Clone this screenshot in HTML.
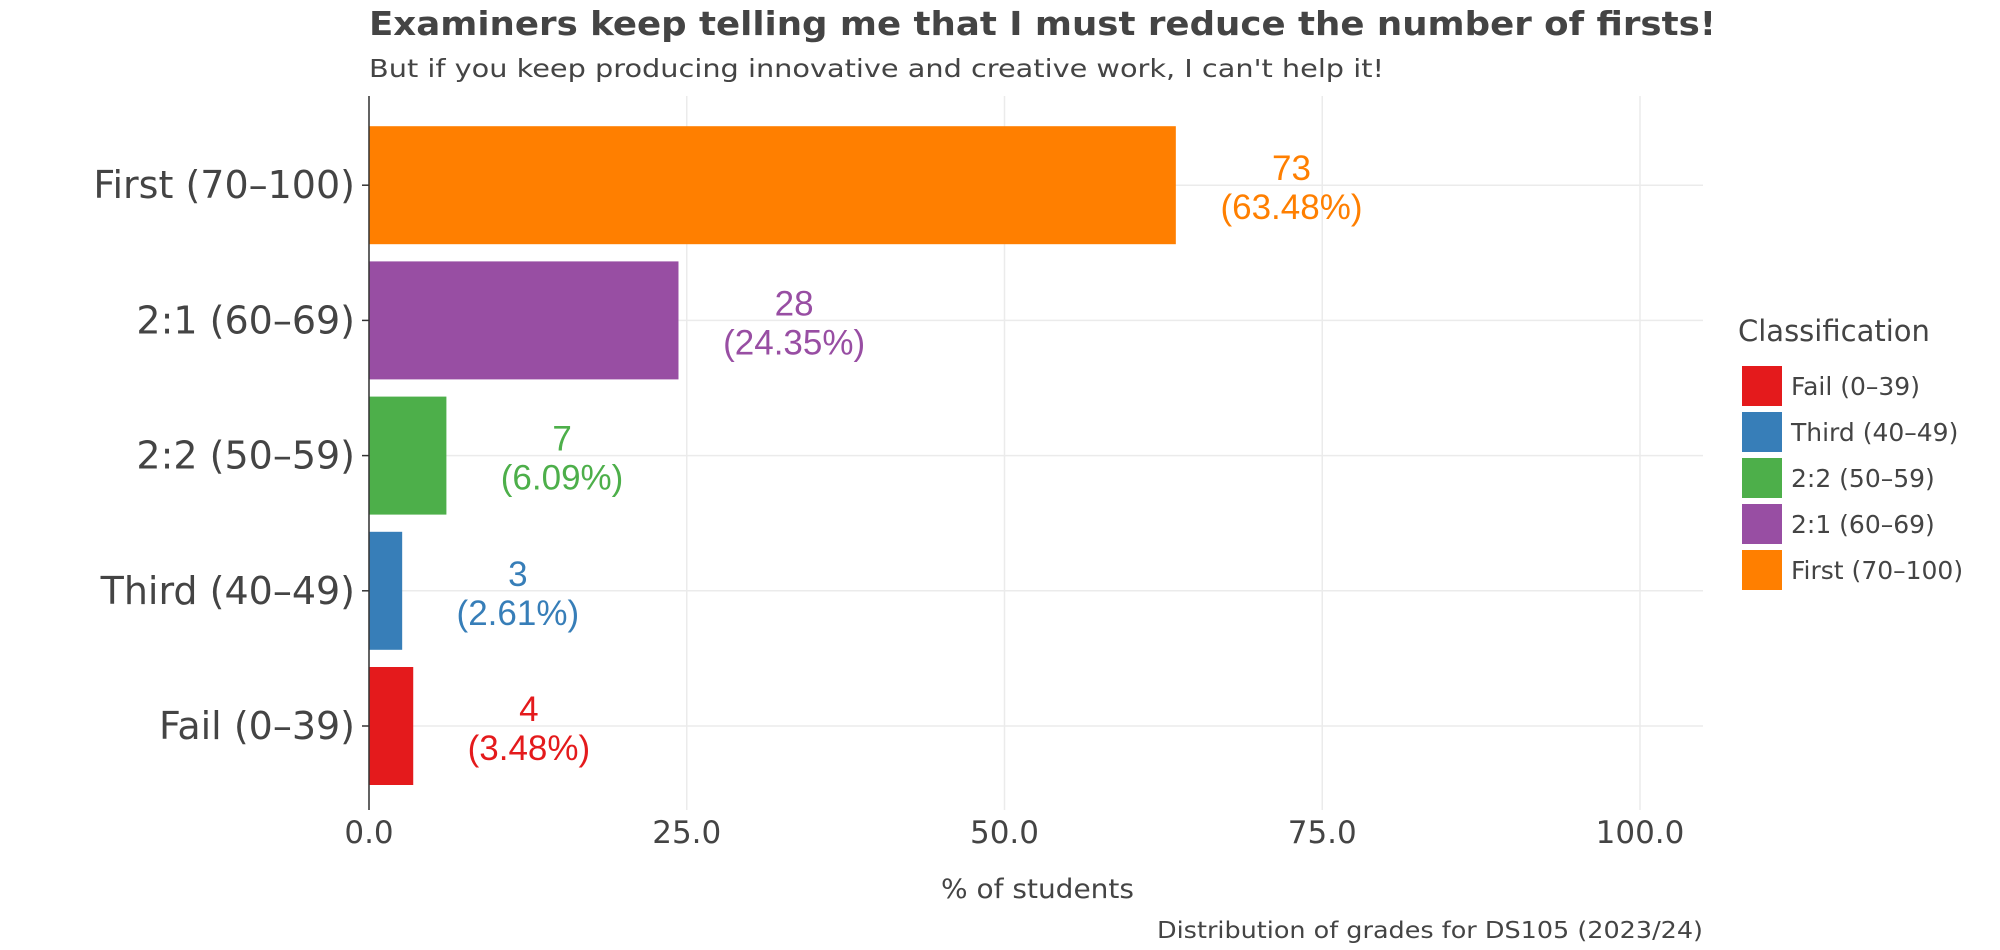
<!DOCTYPE html>
<html><head><meta charset="utf-8"><style>
html,body{margin:0;padding:0;background:#fff}
svg{display:block}
text{font-family:"DejaVu Sans","Liberation Sans",sans-serif}
.val{font-family:"Liberation Sans",sans-serif}
</style></head><body>
<svg id="chart" width="2000" height="950" viewBox="0 0 2000 950" xmlns="http://www.w3.org/2000/svg">
<text x="369" y="35" font-size="33" font-weight="bold" fill="#444" textLength="1347" lengthAdjust="spacingAndGlyphs">Examiners keep telling me that I must reduce the number of firsts!</text>
<text x="369" y="77" font-size="25" fill="#444" textLength="1015" lengthAdjust="spacingAndGlyphs">But if you keep producing innovative and creative work, I can't help it!</text>
<g id="grid"></g><g id="bars"></g><g id="axes"></g>
<text x="941" y="898" font-size="27" fill="#444" textLength="193" lengthAdjust="spacingAndGlyphs">% of students</text>
<text x="1157" y="938" font-size="23" fill="#444" textLength="546" lengthAdjust="spacingAndGlyphs">Distribution of grades for DS105 (2023/24)</text>
<g id="legend"></g>
</svg>
<script>
const categories=["Fail (0-39)","Third (40-49)","2:2 (50-59)","2:1 (60-69)","First (70-100)"];
const counts=[4,3,7,28,73];
const percents=[3.48,2.61,6.09,24.35,63.48];
const colors=["#E41A1C","#377EB8","#4DAF4A","#984EA3","#FF7F00"];
const xTicks=[0,25,50,75,100];
const xTickLabels=["0.0","25.0","50.0","75.0","100.0"];

const NS="http://www.w3.org/2000/svg";
const L=369,R=1703,T=96,B=810,X100=1640;
const xs=v=>L+(X100-L)*v/100;
const band=135.2, firstC=726;
const yc=i=>firstC-band*i;
function mk(tag,attrs,parent,txt){const e=document.createElementNS(NS,tag);for(const k in attrs)e.setAttribute(k,attrs[k]);if(txt!==undefined)e.textContent=txt;parent.appendChild(e);return e;}
const grid=document.getElementById('grid'),bars=document.getElementById('bars'),axes=document.getElementById('axes'),legend=document.getElementById('legend');
xTicks.forEach((t,i)=>{
 const g=mk('line',{x1:xs(t),x2:xs(t),y1:T,y2:B,stroke:'#ebebeb','stroke-width':1.5},grid);
 
 
 const tl=mk('text',{x:xs(t),y:843,'font-size':31,fill:'#444','text-anchor':'middle'},axes,xTickLabels[i]);
 
 
});
categories.forEach((c,i)=>{
 const y=yc(i);
 const h=mk('line',{x1:L,x2:R,y1:y,y2:y,stroke:'#ebebeb','stroke-width':1.5},grid);
 
 
 const bh=118;
 const b=mk('rect',{x:L,y:y-bh/2,width:xs(percents[i])-L,height:bh,fill:colors[i]},bars);
 
 
 const lx=xs(percents[i]+9.1);
 const t1=mk('text',{class:'val',x:lx,y:y-5,'font-size':35,fill:colors[i],'text-anchor':'middle'},bars,String(counts[i]));
 
 
 const t2=mk('text',{class:'val',x:lx,y:y+34,'font-size':35,fill:colors[i],'text-anchor':'middle'},bars,'('+percents[i].toFixed(2)+'%)');
 
 
 const yl=mk('text',{x:355,y:y+13,'font-size':38,fill:'#444','text-anchor':'end'},axes,c.replace('-','\u2013'));
 
 
 const tk=mk('line',{x1:362,x2:L,y1:y,y2:y,stroke:'#333','stroke-width':1.5},axes);
 
 
 const ly=366+46*i;
 const k=mk('rect',{x:1742,y:ly,width:40,height:40,fill:colors[i]},legend);
 
 
 const lt=mk('text',{x:1791,y:ly+29,'font-size':25,fill:'#444'},legend,c.replace('-','\u2013'));
 
 
});
const ax=mk('line',{x1:L,x2:L,y1:T,y2:B,stroke:'#333','stroke-width':1.5},axes);


const lgT=mk('text',{x:1738,y:341,'font-size':29,fill:'#444'},legend,'Classification');


</script>
</body></html>
